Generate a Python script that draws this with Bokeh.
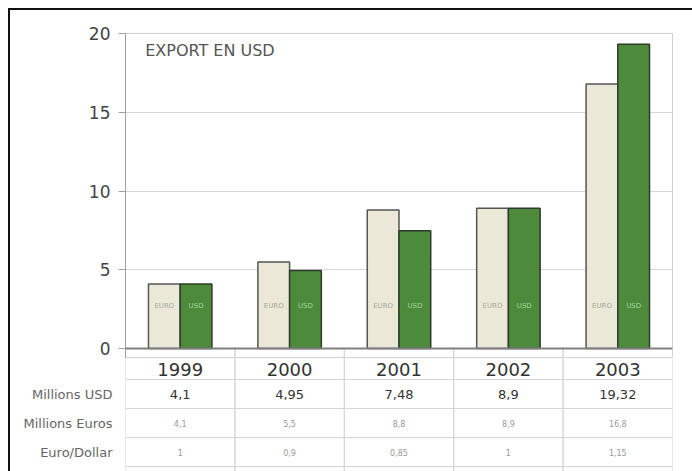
from bokeh.plotting import figure
from bokeh.layouts import column
from bokeh.models import (FactorRange, Range1d, Label, ColumnDataSource, Span,
                          FixedTicker, InlineStyleSheet)
from bokeh.transform import dodge
from bokeh.core.properties import value
from bokeh.embed import file_html
from bokeh.resources import INLINE

# ---- data ----
years = ["1999", "2000", "2001", "2002", "2003"]
euro_values = [4.1, 5.5, 8.8, 8.9, 16.8]
usd_values = [4.1, 4.95, 7.48, 8.9, 19.32]
usd_labels = ["4,1", "4,95", "7,48", "8,9", "19,32"]
euro_labels = ["4,1", "5,5", "8,8", "8,9", "16,8"]
rate_labels = ["1", "0,9", "0,85", "1", "1,15"]
row_names = ["Millions USD", "Millions Euros", "Euro/Dollar"]
y_ticks = [0, 5, 10, 15, 20]
title_text = "EXPORT EN USD"
bar_names = ["EURO", "USD"]

FONT = "DejaVu Sans"
GRID = "#d6d6d6"
Y_START = -0.63          # small blank band below the zero line (top of year row)

x_range = FactorRange(*years)

# ---- chart ----
p = figure(x_range=x_range, y_range=Range1d(Y_START, 20), width=682, height=348,
           min_border_left=115, min_border_right=20, min_border_top=23,
           min_border_bottom=0, output_backend="svg", toolbar_location=None,
           background_fill_color="white", border_fill_color="white")
p.xaxis.visible = False
p.xgrid.grid_line_color = None
p.ygrid.grid_line_color = GRID
p.ygrid.ticker = FixedTicker(ticks=y_ticks)
p.yaxis.ticker = FixedTicker(ticks=y_ticks)
p.yaxis.axis_line_color = "#a0a0a0"
p.yaxis.major_tick_line_color = "#a0a0a0"
p.yaxis.major_tick_out = 7
p.yaxis.major_tick_in = 0
p.yaxis.minor_tick_line_color = None
p.yaxis.major_label_text_font = FONT
p.yaxis.major_label_text_font_size = "17px"
p.yaxis.major_label_text_color = "#444444"
p.yaxis.major_label_standoff = 8
p.outline_line_color = "#d0d0d0"

src = ColumnDataSource(dict(year=years, euro=euro_values, usd=usd_values,
                            euro_name=[bar_names[0]] * len(years),
                            usd_name=[bar_names[1]] * len(years),
                            label_y=[2.7] * len(years),
                            band_top=[0] * len(years),
                            band_bottom=[Y_START] * len(years)))

# table column separators continuing above the year row
p.vbar(x="year", width=1, top="band_top", bottom="band_bottom", source=src,
       fill_color=None, line_color=GRID, line_width=1)

p.vbar(x=dodge("year", -0.145, range=x_range), top="euro", width=0.29, source=src,
       fill_color="#EBE8D7", line_color="#555555", line_width=1.5)
p.vbar(x=dodge("year", 0.145, range=x_range), top="usd", width=0.29, source=src,
       fill_color="#4D8A3C", line_color="#2E3B2A", line_width=1.5)
p.text(x=dodge("year", -0.145, range=x_range), y="label_y", text="euro_name", source=src,
       text_font=value(FONT), text_font_size="7px", text_color="#a8a8a0",
       text_align="center", text_baseline="middle")
p.text(x=dodge("year", 0.145, range=x_range), y="label_y", text="usd_name", source=src,
       text_font=value(FONT), text_font_size="7px", text_color="#a6d39a",
       text_align="center", text_baseline="middle")
p.add_layout(Span(location=0, dimension="width", line_color="#808080", line_width=2))
p.add_layout(Label(x=0.18, y=18.9, text=title_text, text_font=FONT, text_font_size="16px",
                   text_color="#555555", text_baseline="middle"))

# ---- table ----
table_rows = ["year"] + row_names + [""]
row_pos = list(range(len(table_rows)))
t = figure(x_range=x_range, y_range=Range1d(3.67, -0.224), width=682, height=113,
           min_border_left=115, min_border_right=20, min_border_top=0,
           min_border_bottom=0, output_backend="svg", toolbar_location=None,
           background_fill_color="white", border_fill_color="white")
t.xaxis.visible = False
t.xgrid.grid_line_color = None
t.ygrid.grid_line_color = None
t.outline_line_color = None
t.yaxis.ticker = FixedTicker(ticks=row_pos[1:4])
t.yaxis.major_label_overrides = {row_pos[i + 1]: name for i, name in enumerate(row_names)}
t.yaxis.axis_line_color = None
t.yaxis.major_tick_line_color = None
t.yaxis.minor_tick_line_color = None
t.yaxis.major_label_text_font = FONT
t.yaxis.major_label_text_font_size = "13px"
t.yaxis.major_label_text_color = "#666666"
t.yaxis.major_label_standoff = 7

cells_x = [y for r in row_pos for y in years]
cells_y = [r for r in row_pos for y in years]
t.rect(x=cells_x, y=cells_y, width=1, height=1, fill_color=None,
       line_color=GRID, line_width=1)

def row_text(labels, row, size, color, dy=0):
    t.text(x=years, y=[row_pos[row]] * len(years), text=labels, text_font=value(FONT),
           text_font_size=size, text_color=color, text_align="center",
           text_baseline="middle", y_offset=dy)

row_text(years, 0, "18px", "#333333", dy=4)
row_text(usd_labels, 1, "13px", "#333333")
row_text(euro_labels, 2, "8px", "#999999")
row_text(rate_labels, 3, "8px", "#999999")

frame_css = InlineStyleSheet(css=":host { border-top: 2px solid #111111 !important; "
                                 "border-left: 2px solid #111111 !important; "
                                 "margin-left: 8px !important; margin-top: 8px !important; }")
layout = column(p, t, spacing=0, stylesheets=[frame_css])

open("out.html", "w").write(file_html(layout, INLINE))
